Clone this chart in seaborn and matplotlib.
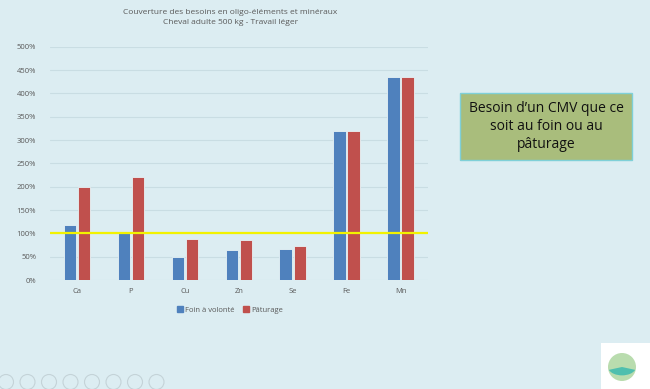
import matplotlib
matplotlib.use("Agg")
import matplotlib.pyplot as plt
import matplotlib.patches as mpatches
import seaborn as sns
import pandas as pd

categories = ["Ca", "P", "Cu", "Zn", "Se", "Fe", "Mn"]
foin = [119, 104, 50, 64, 67, 320, 436]
paturage = [200, 220, 88, 86, 73, 319, 436]
series_names = ["Foin à volonté", "Pâturage"]
yticks = [0, 50, 100, 150, 200, 250, 300, 350, 400, 450, 500]
threshold = 100

df = pd.DataFrame({
    "cat": categories * 2,
    "val": foin + paturage,
    "serie": [series_names[0]] * len(categories) + [series_names[1]] * len(categories),
})

bg = "#dcedf2"
sns.set_theme(style="white")
plt.rcParams["font.family"] = ["Open Sans", "DejaVu Sans"]

fig = plt.figure(figsize=(6.5, 3.89), dpi=100, facecolor=bg)
ax = fig.add_axes([0.077, 0.280, 0.581, 0.600])
ax.set_facecolor(bg)

sns.barplot(data=df, x="cat", y="val", hue="serie", order=categories,
            hue_order=series_names, palette=["#4f81bd", "#c0504d"],
            saturation=1, width=0.52, gap=0.1, edgecolor="#e8f3f6", linewidth=0.6,
            ax=ax, legend=False)

ax.axhline(threshold, color="#f2f200", lw=1.6, zorder=5)

ax.set_ylim(0, 500)
ax.set_xlim(-0.5, len(categories) - 0.5)
ax.set_yticks(yticks)
ax.set_yticklabels([f"{v}%" for v in yticks])
ax.yaxis.grid(True, color="#c9dde3", lw=0.8)
ax.set_axisbelow(True)
for s in ax.spines.values():
    s.set_visible(False)
ax.tick_params(axis="both", length=0, labelsize=5.5, labelcolor="#595959", pad=6)
ax.tick_params(axis="y", pad=10)
ax.set_xlabel("")
ax.set_ylabel("")

fig.text(0.354, 0.955, "Couverture des besoins en oligo-éléments et minéraux\nCheval adulte 500 kg - Travail léger",
         ha="center", va="center", fontsize=6, color="#595959", linespacing=1.5)

handles = [mpatches.Patch(color="#4f81bd"), mpatches.Patch(color="#c0504d")]
fig.legend(handles, series_names, loc="center", bbox_to_anchor=(0.354, 0.203),
           ncol=2, frameon=False, fontsize=5.5, labelcolor="#595959",
           handlelength=0.7, handleheight=0.7, handletextpad=0.3, columnspacing=1.2)

# annotation box
box = mpatches.Rectangle((460 / 650, 1 - 160 / 389), 172 / 650, 67 / 389,
                         transform=fig.transFigure, facecolor="#a9bd7c",
                         edgecolor="#7fd0d8", lw=1.0)
fig.patches.append(box)
fig.text(546 / 650, 1 - 126.5 / 389, "Besoin d’un CMV que ce\nsoit au foin ou au\npâturage",
         ha="center", va="center", fontsize=10, color="#111111", linespacing=1.3)

# logo placeholder bottom right
logo = mpatches.Rectangle((601 / 650, 0), 49 / 650, 46 / 389, transform=fig.transFigure,
                          facecolor="white", edgecolor="none")
fig.patches.append(logo)
circ = mpatches.Ellipse((622 / 650, 1 - 367 / 389), 28 / 650, 28 / 389,
                        transform=fig.transFigure, facecolor="#b9dcae", edgecolor="none")
fig.patches.append(circ)
circ2 = mpatches.Wedge((622 / 650, 1 - 367 / 389), 14 / 650, 200, 340,
                       transform=fig.transFigure, facecolor="#4fbfae", edgecolor="none")
fig.patches.append(circ2)

# faint navigation icons bottom-left
for i in range(8):
    c = mpatches.Ellipse(((6 + i * 21.5) / 650, 1 - 382 / 389), 15 / 650, 15 / 389,
                         transform=fig.transFigure, facecolor="none",
                         edgecolor="#c4d3d8", lw=0.8)
    fig.patches.append(c)

fig.savefig("out.png", dpi=100, facecolor=bg)
